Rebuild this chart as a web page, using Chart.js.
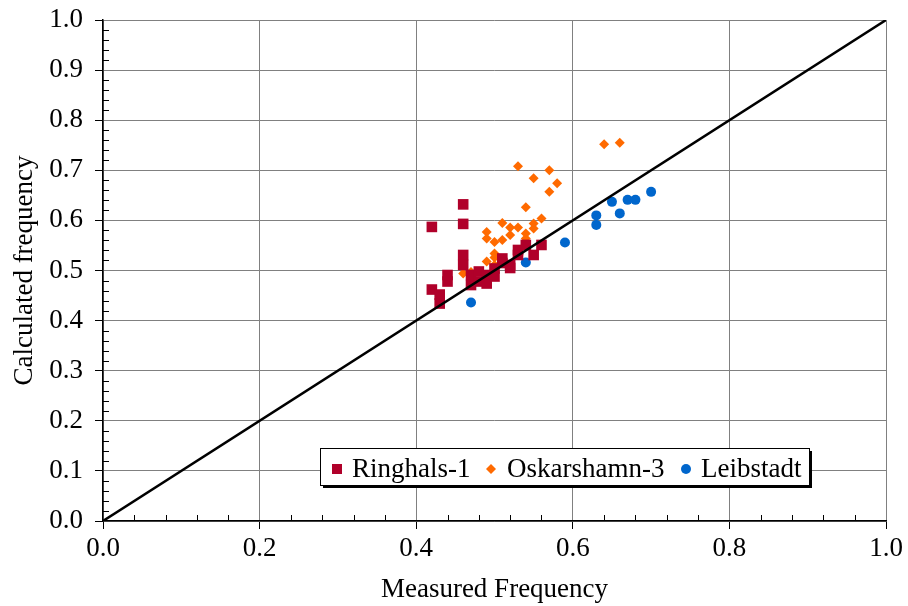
<!DOCTYPE html>
<html>
<head>
<meta charset="utf-8">
<script src="https://cdn.jsdelivr.net/npm/chart.js@4"></script>
<style>
  html, body { margin: 0; padding: 0; background: #fff; }
  #wrap { width: 908px; height: 606px; }
</style>
</head>
<body>
<div id="wrap"><canvas id="scatterChart" width="908" height="606"></canvas></div>
<script>
// values
var ringhalsX = [0.42, 0.46, 0.46, 0.46, 0.46, 0.42, 0.43, 0.43, 0.44, 0.44, 0.47, 0.47, 0.48, 0.48,
                 0.49, 0.49, 0.50, 0.50, 0.51, 0.52, 0.52, 0.53, 0.54, 0.55, 0.56, 0.53, 0.51];
var ringhalsY = [0.587, 0.632, 0.593, 0.531, 0.511, 0.462, 0.452, 0.434, 0.491, 0.478, 0.491, 0.471, 0.498, 0.478,
                 0.491, 0.474, 0.504, 0.488, 0.524, 0.511, 0.505, 0.541, 0.551, 0.531, 0.551, 0.531, 0.515];

var oskarshamnX = [0.64, 0.66, 0.53, 0.57, 0.55, 0.58, 0.57, 0.54, 0.56, 0.55, 0.55, 0.53, 0.52, 0.52,
                   0.51, 0.51, 0.54, 0.54, 0.49, 0.49, 0.50, 0.50, 0.50, 0.49, 0.50, 0.46, 0.47];
var oskarshamnY = [0.752, 0.755, 0.708, 0.700, 0.684, 0.674, 0.657, 0.626, 0.604, 0.594, 0.584, 0.586, 0.586, 0.571,
                   0.595, 0.561, 0.574, 0.564, 0.577, 0.564, 0.557, 0.534, 0.526, 0.518, 0.511, 0.494, 0.497];

var leibstadtX = [0.47, 0.54, 0.59, 0.63, 0.63, 0.65, 0.66, 0.67, 0.68, 0.70];
var leibstadtY = [0.436, 0.516, 0.556, 0.610, 0.591, 0.637, 0.614, 0.641, 0.641, 0.657];

var diagonalX = [0, 1];
var diagonalY = [0, 1];

var xTicks = [0, 0.2, 0.4, 0.6, 0.8, 1.0];
var yTicks = [0, 0.1, 0.2, 0.3, 0.4, 0.5, 0.6, 0.7, 0.8, 0.9, 1.0];

var serif = '"Liberation Serif", "Times New Roman", serif';

function toPoints(xs, ys) {
    return xs.map(function (x, i) { return { x: x, y: ys[i] }; });
}

// minor ticks on the inside of the axes
var minorTicks = {
    id: 'minorTicks',
    beforeDatasetsDraw: function (chart) {
        var ctx = chart.ctx, xs = chart.scales.x, ys = chart.scales.y;
        var a = chart.chartArea;
        ctx.save();
        ctx.strokeStyle = '#000';
        ctx.lineWidth = 1;
        ctx.beginPath();
        for (var i = 1; i < 25; i++) {
            if (i % 5 === 0) continue;
            var px = Math.round(xs.getPixelForValue(i * 0.04)) + 0.5;
            ctx.moveTo(px, a.bottom);
            ctx.lineTo(px, a.bottom - 6);
        }
        for (var j = 1; j < 50; j++) {
            if (j % 5 === 0) continue;
            var py = Math.round(ys.getPixelForValue(j * 0.02)) + 0.5;
            ctx.moveTo(a.left, py);
            ctx.lineTo(a.left + 6, py);
        }
        ctx.stroke();
        ctx.restore();
    }
};

// legend box sitting inside the plot, with a drop shadow
var boxLegend = {
    id: 'boxLegend',
    afterDraw: function (chart) {
        var ctx = chart.ctx;
        var left = 320, top = 448, w = 489, h = 37;
        ctx.save();
        ctx.fillStyle = '#000';
        ctx.fillRect(left + 3, top + 3, w, h);
        ctx.fillStyle = '#fff';
        ctx.fillRect(left, top, w, h);
        ctx.strokeStyle = '#000';
        ctx.lineWidth = 1;
        ctx.strokeRect(left + 0.5, top + 0.5, w, h);

        ctx.font = '27px ' + serif;
        ctx.textBaseline = 'alphabetic';
        var base = 477, cy = 469;
        var items = [
            { x: 337, tx: 352, ds: chart.data.datasets[0] },
            { x: 491, tx: 507, ds: chart.data.datasets[1] },
            { x: 686, tx: 701, ds: chart.data.datasets[2] }
        ];
        items.forEach(function (it) {
            ctx.fillStyle = it.ds.backgroundColor;
            if (it.ds.pointStyle === 'rect') {
                ctx.fillRect(it.x - 5, cy - 5, 10, 10);
            } else if (it.ds.pointStyle === 'rectRot') {
                ctx.beginPath();
                ctx.moveTo(it.x - 5, cy);
                ctx.lineTo(it.x, cy - 5);
                ctx.lineTo(it.x + 5, cy);
                ctx.lineTo(it.x, cy + 5);
                ctx.closePath();
                ctx.fill();
            } else {
                ctx.beginPath();
                ctx.arc(it.x, cy, 5, 0, Math.PI * 2);
                ctx.fill();
            }
            ctx.fillStyle = '#000';
            ctx.fillText(it.ds.label, it.tx, base);
        });
        ctx.restore();
    }
};

var ctx = document.getElementById('scatterChart').getContext('2d');
var scatterChart = new Chart(ctx, {
    type: 'scatter',
    data: {
        datasets: [{
            label: 'Ringhals-1',
            data: toPoints(ringhalsX, ringhalsY),
            pointStyle: 'rect',
            pointRadius: 7.5,
            backgroundColor: '#B0002A',
            borderColor: '#B0002A',
            borderWidth: 0
        }, {
            label: 'Oskarshamn-3',
            data: toPoints(oskarshamnX, oskarshamnY),
            pointStyle: 'rectRot',
            pointRadius: 5,
            backgroundColor: '#FF6A00',
            borderColor: '#FF6A00',
            borderWidth: 0
        }, {
            label: 'Leibstadt',
            data: toPoints(leibstadtX, leibstadtY),
            pointStyle: 'circle',
            pointRadius: 5,
            backgroundColor: '#0066CC',
            borderColor: '#0066CC',
            borderWidth: 0
        }, {
            label: 'diagonal',
            type: 'line',
            data: toPoints(diagonalX, diagonalY),
            borderColor: '#000',
            borderWidth: 2.5,
            pointRadius: 0,
            fill: false,
            order: -1
        }]
    },
    options: {
        responsive: false,
        animation: false,
        layout: { padding: { top: 20, right: 22, left: 0, bottom: 0 } },
        plugins: {
            legend: { display: false },
            tooltip: { enabled: false }
        },
        scales: {
            x: {
                type: 'linear',
                min: 0,
                max: 1,
                afterFit: function (s) { s.height = 85; s.paddingLeft = 0; s.paddingRight = 0; },
                afterBuildTicks: function (s) { s.ticks = xTicks.map(function (v) { return { value: v }; }); },
                ticks: {
                    color: '#000',
                    font: { family: serif, size: 27 },
                    padding: 4,
                    maxRotation: 0,
                    callback: function (v) { return v.toFixed(1); }
                },
                grid: { color: '#808080', lineWidth: 1, tickLength: 8, tickColor: '#000' },
                border: { color: '#000', width: 1.5 },
                title: {
                    display: true,
                    text: 'Measured Frequency',
                    color: '#000',
                    font: { family: serif, size: 27 },
                    padding: { top: 0, bottom: 0 }
                }
            },
            y: {
                type: 'linear',
                min: 0,
                max: 1,
                afterFit: function (s) { s.width = 103; s.paddingTop = 0; s.paddingBottom = 0; },
                afterBuildTicks: function (s) { s.ticks = yTicks.map(function (v) { return { value: v }; }); },
                ticks: {
                    color: '#000',
                    font: { family: serif, size: 27 },
                    padding: 12,
                    callback: function (v) { return v.toFixed(1); }
                },
                grid: { color: '#808080', lineWidth: 1, tickLength: 8, tickColor: '#000' },
                border: { color: '#000', width: 1.5 },
                title: {
                    display: true,
                    text: 'Calculated frequency',
                    color: '#000',
                    font: { family: serif, size: 27 },
                    padding: { top: 9, bottom: 0 }
                }
            }
        }
    },
    plugins: [minorTicks, boxLegend]
});
</script>
</body>
</html>
